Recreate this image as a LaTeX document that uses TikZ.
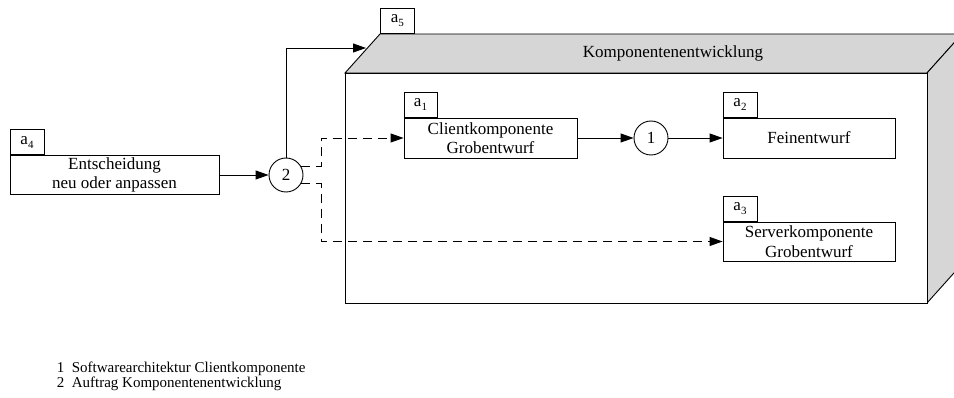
\documentclass[tikz,border=0pt]{standalone}
\usepackage{fontspec}
\setmainfont{Liberation Serif}
\usetikzlibrary{arrows.meta}
\definecolor{facegray}{RGB}{214,214,214}
\newcommand{\tablabel}[1]{a{\fontsize{11}{11}\selectfont\raisebox{-4pt}{#1}}}
\begin{document}
\begin{tikzpicture}[x=1pt,y=-1pt,line width=0.9pt,
  txt/.style={font=\fontsize{17}{19.5}\selectfont},
  actbox/.style={draw, fill=white, txt, align=center, inner sep=0pt,
                 minimum width=172pt, minimum height=40pt},
  tab/.style={draw, fill=white, txt, inner sep=0pt, anchor=south west,
              minimum width=34pt, minimum height=25pt},
  conn/.style={draw, circle, fill=white, txt, inner sep=0pt, minimum size=34pt},
  flow/.style={-{Triangle[length=13pt,width=9pt]}},
  dflow/.style={flow, dash pattern=on 9pt off 6pt},
  legend/.style={anchor=base west, font=\fontsize{15}{18}\selectfont}]
\useasboundingbox (0,0) rectangle (954,398);

% component block drawn as a cube, cut off at the page edge
\begin{scope}
  \clip (0,0) rectangle (954,398);
  \filldraw[fill=facegray] (345,73) -- (380,34) -- (962,34) -- (927,73) -- cycle;
  \filldraw[fill=facegray] (927,73) -- (962,34) -- (962,264) -- (927,303) -- cycle;
  \draw[fill=white] (345,73) rectangle (927,303);
\end{scope}
\node[txt] (cubetitle) at (673,53) {Komponentenentwicklung};
\node[tab] (t5) at (380,34) {\tablabel{5}};
\coordinate (cubein) at (366,48);

% activities
\node[actbox, minimum width=209pt, minimum height=39pt] (a4) at (114.5,175)
  {Entscheidung\\neu oder anpassen};
\node[tab] (t4) at (a4.north west) {\tablabel{4}};

\node[actbox, minimum width=173pt] (a1) at (490.5,138) {Clientkomponente\\Grobentwurf};
\node[tab, minimum width=33pt] (t1) at (a1.north west) {\tablabel{1}};

\node[actbox] (a2) at (809,138) {Feinentwurf};
\node[tab] (t2) at (a2.north west) {\tablabel{2}};

\node[actbox, minimum height=39pt] (a3) at (809,241.5) {Serverkomponente\\Grobentwurf};
\node[tab] (t3) at (a3.north west) {\tablabel{3}};

% connectors
\node[conn] (c2) at (286,175) {2};
\node[conn] (c1) at (651,138) {1};
\coordinate (split) at (321,0);

\draw[flow] (a4.east) -- (c2.west);
\draw[flow] (c2.north) |- (cubein);
\draw[dflow] (c2.28) -| (split |- a1.west) -- (a1.west);
\draw[dflow] (c2.-28) -| (split |- a3.west) -- (a3.west);
\draw[flow] (a1.east) -- (c1.west);
\draw[flow] (c1.east) -- (a2.west);

% legend
\node[legend] (l1) at (53,373) {1\ \ Softwarearchitektur Clientkomponente};
\node[legend] (l2) at (53,388) {2\ \ Auftrag Komponentenentwicklung};
\end{tikzpicture}
\end{document}
